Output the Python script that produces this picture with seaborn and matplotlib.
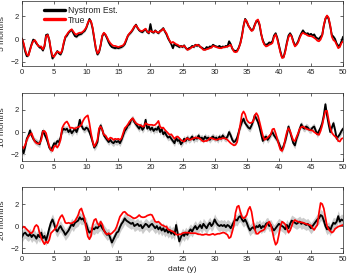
import numpy as np
import pandas as pd
import matplotlib
matplotlib.use('Agg')
import matplotlib.pyplot as plt
from matplotlib.lines import Line2D
import seaborn as sns

# date axis (years), quarter-year sampling
years = np.arange(0, 50.01, 0.25)

# 5 months horizon
true5 = [0.0, -0.35, -0.95, -1.35, -1.45, -1.0, -0.5, -0.2, -0.1, -0.3, -0.6, -0.65, -0.65, -0.9, -0.6, 0.25, 0.35, -0.05, -0.9, -1.5,
         -1.55, -1.25, -1.1, -1.15, -1.25, -1.0, -0.3, 0.2, 0.4, 0.6, 0.75, 0.85, 0.65, 0.45, 0.4, 0.5, 0.55, 0.55, 0.65, 0.8,
         1.0, 1.4, 1.65, 1.55, 1.0, 0.1, -0.8, -1.25, -1.1, -0.5, 0.3, 0.55, 0.4, 0.15, -0.15, -0.35, -0.5, -0.6, -0.6, -0.65,
         -0.7, -0.65, -0.6, -0.55, -0.35, 0.0, 0.3, 0.5, 0.65, 0.85, 1.1, 1.2, 1.0, 0.8, 0.7, 0.7, 0.8, 0.9, 0.65, 0.55,
         0.7, 0.65, 0.6, 0.7, 0.6, 0.55, 0.65, 0.75, 0.9, 0.7, 0.5, 0.15, -0.15, -0.35, -0.25, -0.35, -0.45, -0.5, -0.6, -0.65,
         -0.65, -0.6, -0.75, -0.95, -0.9, -0.8, -0.7, -0.65, -0.55, -0.5, -0.55, -0.65, -0.8, -0.95, -0.95, -0.9, -0.85, -0.8, -0.75, -0.6,
         -0.65, -0.7, -0.75, -0.8, -0.8, -0.75, -0.7, -0.7, -0.65, -0.6, -0.5, -0.8, -1.1, -1.15, -1.1, -0.8, -0.4, 0.2, 1.1, 1.7,
         1.55, 1.2, 0.9, 0.7, 0.8, 1.2, 1.6, 1.7, 1.3, 0.5, -0.2, -0.5, -0.65, -0.6, -0.5, -0.45, -0.35, 0.2, 0.4, 0.0,
         -0.6, -1.2, -1.65, -1.6, -1.1, -0.4, 0.15, 0.4, 0.2, -0.3, -0.65, -0.5, -0.3, 0.1, 0.4, 0.55, 0.45, 0.4, 0.3, 0.25,
         0.25, 0.2, 0.1, 0.0, -0.15, -0.2, -0.05, 0.3, 1.2, 1.8, 2.05, 1.85, 1.2, 0.2, -0.1, -0.2, -0.5, -0.8, -0.7, -0.35,
         -0.2]
est5 = [0.05, -0.45, -1.1, -1.5, -1.4, -0.9, -0.45, -0.05, -0.15, -0.4, -0.55, -0.75, -0.75, -1.0, -0.65, 0.35, 0.4, -0.1, -1.0, -1.7,
        -1.45, -1.3, -1.05, -1.25, -1.35, -1.05, -0.4, 0.15, 0.3, 0.55, 0.7, 0.8, 0.5, 0.25, 0.2, 0.35, 0.4, 0.45, 0.6, 0.7,
        0.95, 1.35, 1.75, 1.5, 0.9, 0.0, -0.85, -1.35, -1.15, -0.55, 0.25, 0.5, 0.35, 0.05, -0.3, -0.55, -0.7, -0.75, -0.8, -0.75,
        -0.8, -0.75, -0.7, -0.6, -0.45, -0.1, 0.3, 0.45, 0.6, 0.8, 1.05, 1.25, 0.95, 0.75, 0.65, 0.6, 0.75, 0.85, 0.6, 0.5,
        1.3, 0.6, 0.55, 0.75, 0.6, 0.5, 0.7, 0.8, 0.95, 0.65, 0.4, 0.05, -0.2, -0.45, -0.8, -0.4, -0.55, -0.6, -0.7, -0.6,
        -0.7, -0.55, -0.8, -0.9, -0.8, -0.75, -0.6, -0.7, -0.5, -0.6, -0.5, -0.7, -0.75, -0.85, -0.9, -0.7, -0.8, -0.65, -0.7, -0.5,
        -0.6, -0.65, -0.7, -0.6, -0.75, -0.65, -0.7, -0.6, -0.65, -0.2, -0.45, -0.85, -1.0, -1.05, -1.0, -0.75, -0.35, 0.3, 1.15, 1.75,
        1.5, 1.15, 0.95, 0.75, 0.85, 1.25, 1.55, 1.6, 1.2, 0.4, -0.1, -0.45, -0.5, -0.45, -0.3, -0.35, -0.2, 0.3, 0.5, 0.1,
        -0.5, -1.1, -1.6, -1.55, -1.0, -0.3, 0.3, 0.5, 0.25, -0.2, -0.55, -0.45, -0.2, 0.2, 0.5, 0.75, 0.55, 0.45, 0.5, 0.35,
        0.45, 0.3, 0.4, 0.15, 0.05, 0.0, 0.2, 0.35, 1.15, 1.75, 2.0, 1.75, 1.1, 0.35, 0.2, 0.0, -0.4, -0.6, -0.55, -0.2,
        0.2]

# 10 months horizon
true10 = [-1.3, -1.45, -1.15, -0.7, -0.4, -0.25, -0.1, -0.55, -0.85, -1.0, -1.05, -1.0, -0.7, 0.05, 0.1, -0.1, -0.7, -1.3, -1.6, -1.7,
          -1.3, -1.2, -1.4, -1.15, -0.7, 0.35, 0.65, 0.85, 0.95, 0.7, 0.35, 0.4, 0.35, 0.3, 0.4, 0.45, 0.5, 0.65, 1.0, 1.25,
          1.4, 1.5, 0.8, -0.1, -0.85, -1.3, -1.05, -0.7, 0.35, 0.5, 0.2, -0.25, -0.3, -0.55, -0.7, -0.5, -0.55, -0.7, -0.6, -0.65,
          -0.6, -0.7, -0.55, -0.1, 0.35, 0.5, 0.7, 0.95, 1.1, 1.25, 1.0, 0.8, 0.7, 0.65, 0.6, 0.5, 0.5, 0.8, 0.7, 0.65,
          0.65, 0.65, 0.6, 0.65, 0.8, 1.0, 0.5, 0.35, 0.4, 0.2, 0.05, -0.1, -0.25, -0.2, -0.4, -0.6, -0.45, -0.4, -0.55, -0.7,
          -0.8, -0.85, -0.65, -0.55, -0.65, -0.7, -0.6, -0.55, -0.5, -0.5, -0.55, -0.6, -0.75, -0.85, -0.8, -0.8, -0.7, -0.55, -0.55, -0.6,
          -0.65, -0.7, -0.65, -0.6, -0.6, -0.55, -0.55, -0.6, -0.7, -0.85, -1.0, -1.1, -1.2, -1.15, -0.9, -0.1, 0.7, 1.6, 1.85, 1.6,
          1.1, 0.9, 0.8, 0.85, 0.95, 1.5, 1.7, 1.45, 0.9, 0.3, -0.3, -0.7, -0.6, -0.5, -0.35, -0.2, 0.25, 0.3, -0.1, -0.6,
          -1.15, -1.6, -1.7, -1.35, -0.6, 0.0, 0.35, 0.1, -0.35, -0.75, -0.8, -0.45, -0.1, 0.3, 0.45, 0.5, 0.4, 0.3, 0.25, 0.2,
          0.15, 0.15, 0.0, -0.1, -0.2, -0.25, 0.1, 0.6, 1.3, 1.9, 1.9, 1.1, 0.4, -0.05, -0.25, -0.4, -0.5, -0.8, -0.85, -0.6,
          -0.55]
est10 = [-1.5, -1.9, -1.3, -0.6, -0.3, 0.15, -0.3, -0.6, -0.8, -0.9, -1.0, -1.1, -0.5, 0.1, -0.2, -0.5, -0.9, -1.4, -1.6, -1.35,
         -1.0, -1.1, -0.8, -0.9, -0.5, 0.1, 0.3, 0.2, 0.3, 0.0, 0.2, -0.1, 0.1, 0.3, 0.0, 0.4, 1.1, 0.6, 0.3, 0.2,
         0.4, 0.3, 0.0, -0.4, -0.9, -1.4, -1.2, -0.9, 0.1, 0.6, 0.2, -0.3, -0.5, -0.7, -0.9, -0.7, -0.9, -1.0, -0.8, -0.9,
         -0.8, -1.0, -0.7, -0.3, 0.1, 0.3, 0.6, 0.7, 1.1, 1.2, 0.9, 0.7, 0.5, 0.3, 0.6, 0.2, 0.4, 1.1, 0.3, 0.5,
         0.2, 0.4, 0.1, 0.3, 0.2, 0.5, 0.0, 0.3, -0.2, 0.0, -0.3, -0.5, -0.4, -0.6, -0.8, -1.0, -0.5, -0.8, -0.7, -1.1,
         -0.9, -0.6, -0.8, -0.5, -0.7, -0.6, -0.4, -0.7, -0.5, -0.6, -0.3, -0.6, -0.5, -0.7, -0.4, -0.6, -0.5, -0.7, -0.5, -0.4,
         -0.6, -0.5, -0.7, -0.4, -0.6, -0.3, -0.5, -0.6, -0.4, 0.0, -0.3, -0.7, -0.9, -0.8, -0.5, 0.0, 0.5, 0.9, 1.2, 0.8,
         0.6, 0.4, 0.3, 0.6, 1.0, 1.5, 1.2, 0.9, 0.4, -0.2, -0.8, -0.5, -0.4, -0.7, -0.5, -0.2, 0.0, -0.3, -0.5, -0.7,
         -1.0, -1.4, -1.6, -1.2, -0.8, -0.2, 0.5, 0.0, -0.5, -1.0, -1.2, -0.6, -0.2, 0.3, 0.7, 0.4, 0.3, 0.5, 0.4, 0.2,
         0.2, 0.4, 0.5, 0.1, -0.2, 0.1, 0.4, 0.8, 1.5, 2.5, 1.5, 0.7, 0.0, 0.4, 0.8, 0.2, -0.6, -0.4, -0.2, 0.1,
         0.3]

# 20 months horizon
true20 = [-0.2, -0.05, -0.15, -0.3, -0.45, -0.6, -0.65, -0.45, -0.05, 0.1, -0.05, -0.65, -1.1, -1.4, -1.65, -1.4, -1.55, -1.25, -0.65, -0.5,
          -0.35, -0.2, 0.1, 0.55, 0.85, 1.0, 0.7, 0.3, 0.25, 0.3, 0.25, 0.25, 0.35, 0.45, 0.7, 1.0, 1.45, 1.6, 1.15, 0.7,
          -0.2, -0.95, -1.2, -0.9, 0.1, 0.55, 0.65, 0.25, 0.05, 0.4, 0.15, -0.35, -0.65, -0.75, -0.65, -0.75, -0.65, -0.5, -0.35, -0.05,
          0.4, 0.85, 1.05, 1.25, 1.3, 1.15, 1.0, 0.95, 0.85, 0.75, 0.7, 0.75, 0.85, 1.0, 0.85, 0.8, 0.8, 0.85, 0.95, 1.0,
          1.05, 1.0, 0.7, 0.4, 0.35, 0.4, 0.25, 0.1, 0.05, -0.05, -0.05, -0.3, -0.35, -0.45, -0.5, -0.6, -0.75, -0.8, -0.75, -0.75,
          -0.65, -0.6, -0.6, -0.6, -0.6, -0.65, -0.65, -0.65, -0.65, -0.7, -0.75, -0.75, -0.8, -0.8, -0.75, -0.75, -0.8, -0.8, -0.75, -0.7,
          -0.8, -0.75, -0.7, -0.7, -0.65, -0.6, -0.6, -0.7, -0.8, -1.1, -1.0, -0.5, 0.1, 1.2, 1.75, 1.85, 1.3, 0.85, 0.7, 0.8,
          1.0, 1.5, 1.75, 1.3, 0.4, -0.3, -0.7, -0.7, -0.55, -0.45, -0.4, -0.3, 0.0, 0.25, 0.4, 0.1, -0.5, -1.2, -1.7, -1.5,
          -0.8, 0.0, 0.4, 0.3, 0.15, -0.2, -0.6, -0.4, 0.0, 0.4, 0.55, 0.45, 0.4, 0.35, 0.35, 0.3, 0.25, 0.2, 0.15, 0.1,
          0.05, -0.2, -0.35, -0.1, 0.1, 1.2, 2.1, 2.0, 1.6, 0.8, 0.0, -0.3, -0.45, -0.6, -0.5, -0.25, -0.15, -0.05, 0.0, 0.05,
          0.1]
est20 = [-1.0, -0.7, -0.6, -0.8, -0.9, -0.7, -1.0, -0.8, -0.9, -1.15, -0.8, -1.0, -0.6, -1.1, -0.9, -1.3, -0.8, -0.2, 0.3, 0.6,
         0.2, -0.3, -0.5, -0.2, 0.0, -0.3, -0.5, -0.8, -0.6, -0.4, -0.1, 0.2, 0.0, 0.3, 0.4, 0.5, 0.8, 0.6, 0.7, 0.4,
         0.2, -0.3, -0.6, -0.5, -0.2, -0.3, -0.1, -0.2, 0.0, 0.1, -0.2, -0.4, -0.6, -0.8, -0.7, -1.1, -1.5, -1.2, -0.9, -0.6,
         -0.5, -0.1, 0.2, 0.4, 0.7, 0.5, 0.4, 0.3, 0.2, 0.3, 0.0, 0.1, 0.2, 0.0, 0.1, -0.2, 0.0, 0.2, 0.1, -0.1,
         0.1, 0.2, 0.0, -0.2, 0.0, -0.3, -0.1, -0.4, -0.2, -0.5, -0.3, -0.6, -0.4, -0.7, -0.5, -0.8, 0.1, -0.7, -1.4, -1.0,
         -0.7, -0.9, -0.6, -0.8, -0.5, -0.3, -0.5, -0.2, 0.0, -0.3, -0.1, 0.1, -0.2, 0.2, 0.0, -0.2, 0.1, 0.3, 0.0, 0.2,
         0.6, 0.3, 0.1, 0.0, 0.1, 0.0, 0.1, -0.1, 0.1, 0.0, -0.2, 0.1, 0.4, 0.6, 0.5, 0.8, 0.9, 0.6, 0.4, 0.6,
         0.3, -0.1, -0.4, -0.2, -0.1, -0.3, 0.0, -0.1, 0.1, -0.2, 0.0, -0.1, 0.2, 0.3, 0.0, 0.1, -0.2, -0.4, -0.2, 0.0,
         0.2, 0.1, 0.0, -0.1, -0.3, 0.1, -0.2, 0.2, 0.5, 0.4, 0.3, 0.2, 0.3, 0.4, 0.2, 0.3, 0.2, 0.1, 0.2, 0.0,
         -0.2, 0.0, 0.2, 0.4, 0.6, 0.7, 1.0, 0.9, 0.5, 0.0, -0.3, -0.1, -0.4, 0.0, 0.3, 0.2, 0.4, 0.9, 0.4, 0.6,
         0.5]

panel_labels = ['5 months', '10 months', '20 months']
band_halfwidth = [0.12, 0.3, 0.5]
xticks = [0, 5, 10, 15, 20, 25, 30, 35, 40, 45, 50]
yticks = [-2, 0, 2]

sns.set_style('ticks')
plt.rcParams['font.family'] = ['Liberation Sans', 'DejaVu Sans']

fig = plt.figure(figsize=(3.49, 2.75), dpi=100)
positions = [[0.063, 0.76, 0.920, 0.236],
             [0.063, 0.4145, 0.920, 0.247],
             [0.063, 0.08, 0.920, 0.24]]
ylims = [(-2.35, 3.3), (-2.6, 3.5), (-2.45, 3.55)]

series = [(est5, true5), (est10, true10), (est20, true20)]
for i, (est, true) in enumerate(series):
    ax = fig.add_axes(positions[i])
    df = pd.DataFrame({'date': years, 'est': est, 'true': true})
    hw = band_halfwidth[i]
    ax.fill_between(df['date'], df['est'] - hw, df['est'] + hw, color='0.8', lw=0)
    sns.lineplot(data=df, x='date', y='est', color='black', lw=1.35, ax=ax)
    sns.lineplot(data=df, x='date', y='true', color='#ff0000', lw=1.25, ax=ax)
    ax.set_xlim(0, 50)
    ax.set_ylim(*ylims[i])
    ax.set_xticks(xticks)
    ax.set_yticks(yticks)
    ax.tick_params(direction='in', top=True, right=True, length=2.5, width=0.5,
                   labelsize=5.5, pad=2, colors='0.15')
    for sp in ax.spines.values():
        sp.set_linewidth(0.5)
        sp.set_color('0.15')
    ax.set_ylabel(panel_labels[i], fontsize=6, labelpad=3)
    ax.set_xlabel('')
    if i == 0:
        handles = [Line2D([], [], color='black', lw=2.4),
                   Line2D([], [], color='#ff0000', lw=2.4)]
        ax.legend(handles, ['Nystrom Est.', 'True'], loc='upper left',
                  bbox_to_anchor=(0.068, 0.93), frameon=False, fontsize=6.2,
                  handlelength=2.5, labelspacing=0.1, handletextpad=0.3,
                  borderpad=0, borderaxespad=0)
    if i == 2:
        ax.set_xlabel('date (y)', fontsize=6, labelpad=2)

fig.savefig('out.png', dpi=100)
